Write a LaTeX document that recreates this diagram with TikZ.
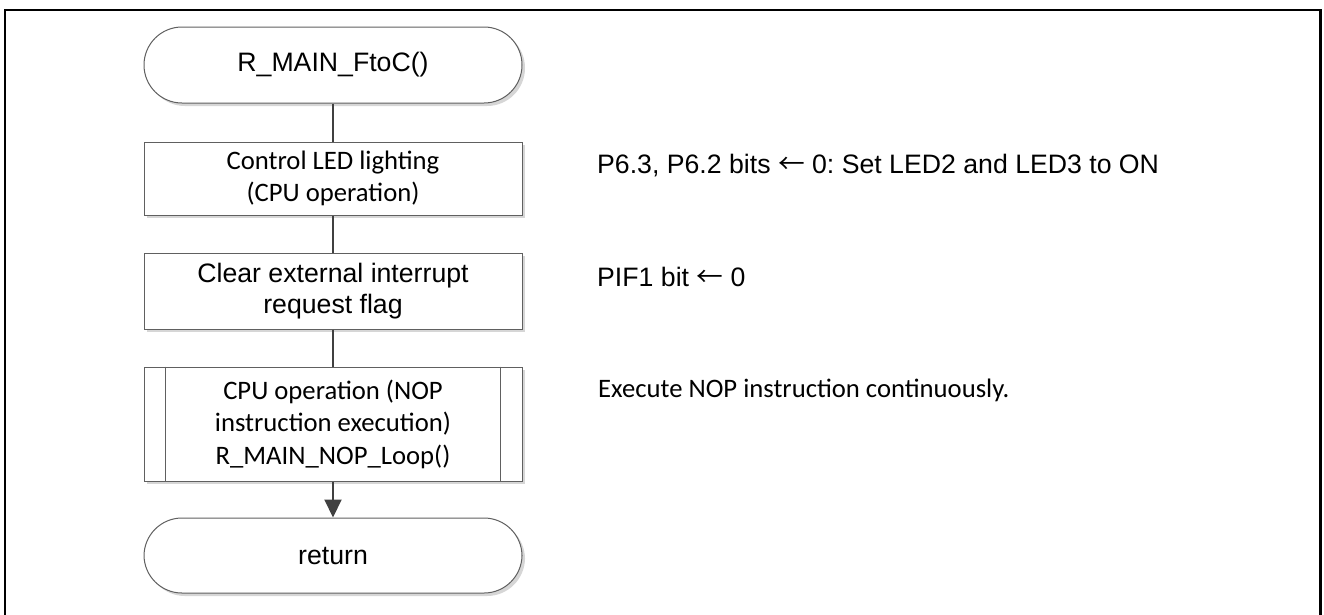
\documentclass[tikz,border=0pt]{standalone}
\usepackage{fontspec}
\setmainfont{Liberation Sans}
\newfontfamily\calibrifont{Carlito}
\newfontfamily\arrowfont{Noto Sans CJK JP}
\usetikzlibrary{arrows.meta,shadows}
\definecolor{edgegray}{HTML}{606060}
\definecolor{conngray}{HTML}{404040}
\newcommand{\larr}{{\arrowfont ←}}
\frenchspacing
\begin{document}
\begin{tikzpicture}[x=1pt,y=-1pt,
  arialtxt/.style={font=\fontsize{26.67}{31}\selectfont},
  caltxt/.style={font=\calibrifont\fontsize{26.67}{32.5}\selectfont},
  shapebase/.style={draw=edgegray, line width=1pt, fill=white, minimum width=378pt,
    align=center, inner sep=0pt, text=black,
    drop shadow={shadow xshift=3pt,shadow yshift=-3pt,fill=black!16,opacity=1}},
  termnode/.style={shapebase, rounded corners=38pt, minimum height=76pt, arialtxt},
  procnode/.style={shapebase, minimum height=74pt},
  conn/.style={draw=conngray, line width=2pt},
  note/.style={anchor=base west, inner sep=0pt, text=black}]
\useasboundingbox (0,0) rectangle (1324,614);
\draw[line width=2.5pt] (5,616) -- (5,10) -- (1320.5,10) -- (1320.5,616);

\node[termnode] (t1) at (333,65) {R\_MAIN\_FtoC()};
\node[procnode, caltxt, minimum height=73pt] (b2) at (333,178.5) {Control LED lighting\\(CPU operation)};
\node[procnode, arialtxt, minimum height=76pt] (b3) at (333,291) {Clear external interrupt\\request flag};
\node[procnode, caltxt, minimum height=114pt] (b4) at (333,424) {CPU operation (NOP\\instruction execution)\\R\_MAIN\_NOP\_Loop()};
\draw[edgegray, line width=1pt] ([xshift=22pt]b4.north west) -- ([xshift=22pt]b4.south west);
\draw[edgegray, line width=1pt] ([xshift=-22pt]b4.north east) -- ([xshift=-22pt]b4.south east);
\node[termnode, minimum height=75pt] (t2) at (333,555.5) {return};

\draw[conn] (t1.south) -- (b2.north);
\draw[conn] (b2.south) -- (b3.north);
\draw[conn] (b3.south) -- (b4.north);
\draw[conn, -{Triangle[length=18pt,width=17pt]}] (b4.south) -- (t2.north);

\node[note, arialtxt] (n1) at (597,173) {P6.3, P6.2 bits \larr\ 0: Set LED2 and LED3 to ON};
\node[note, arialtxt] (n2) at (597,286) {PIF1 bit \larr\ 0};
\node[note, caltxt] (n3) at (598,397) {Execute NOP instruction continuously.};
\end{tikzpicture}
\end{document}
